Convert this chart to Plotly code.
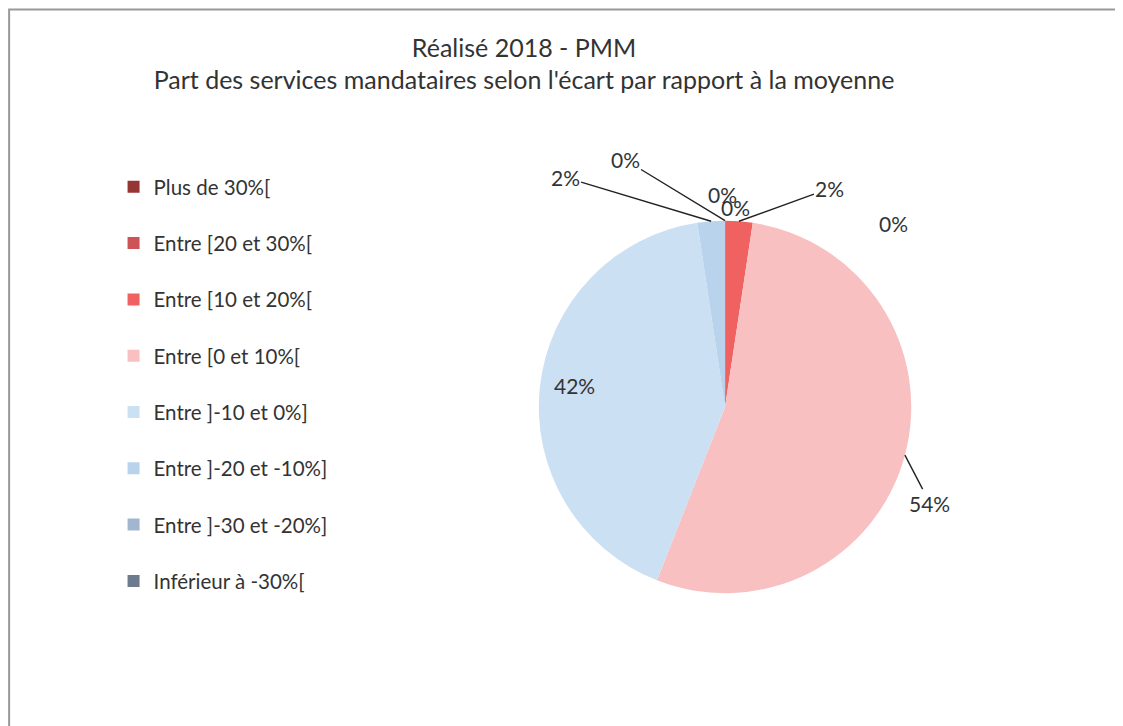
import math
import plotly.graph_objects as go

labels = ["Plus de 30%[", "Entre [20 et 30%[", "Entre [10 et 20%[", "Entre [0 et 10%[",
          "Entre ]-10 et 0%]", "Entre ]-20 et -10%]", "Entre ]-30 et -20%]", "Inférieur à -30%["]
counts = [0, 0, 2, 45, 35, 2, 0, 0]
colors = ["#963634", "#CD5357", "#F06262", "#F8C0C0",
          "#CCE0F3", "#BAD3EC", "#A3B6CF", "#6E7B8D"]

title_lines = ["Réalisé 2018 - PMM",
               "Part des services mandataires selon l'écart par rapport à la moyenne"]

# label placement per slice: pixel offset from slice edge midpoint, leader line or not
label_offsets = [(-3, -26, False), (10, -13, False), (91, -33, True), (25, 48, True),
                 (35, -1, False), (-146, -44, True), (-100, -61, True), (168, 3, False)]

W, H = 1123, 726
dom_x = [0.4685, 0.8085]
dom_y = [0.194, 0.707]
lbl_font = dict(size=21, family="Lato", color="#333333")

fig = go.Figure(go.Pie(
    labels=[l + "<br> " for l in labels],
    values=counts,
    marker=dict(colors=colors),
    sort=False,
    direction="clockwise",
    rotation=0,
    textinfo="none",
    domain=dict(x=dom_x, y=dom_y),
    showlegend=True,
))

# data labels, positioned from the slice angles
total = sum(counts)
cx = sum(dom_x) / 2
cy = sum(dom_y) / 2
r_px = min((dom_x[1] - dom_x[0]) * W, (dom_y[1] - dom_y[0]) * H) / 2
cum = 0
for v, (dx, dy, line) in zip(counts, label_offsets):
    theta = 2 * math.pi * (cum + v / 2) / total
    cum += v
    px = cx + r_px * math.sin(theta) / W
    py = cy + r_px * math.cos(theta) / H
    txt = f"{round(100 * v / total)}%"
    if line:
        fig.add_annotation(x=px, y=py, xref="paper", yref="paper", text=txt,
                           showarrow=True, arrowhead=0, arrowwidth=1.4, arrowcolor="#222222",
                           ax=dx, ay=dy, font=lbl_font)
    else:
        fig.add_annotation(x=px, y=py, xref="paper", yref="paper", text=txt,
                           showarrow=False, xshift=dx, yshift=-dy,
                           xanchor="center", yanchor="middle", font=lbl_font)

fig.update_layout(
    width=W, height=H,
    paper_bgcolor="white",
    font=dict(family="Lato", color="#333333"),
    title=dict(text="<br>".join(title_lines), x=0.4595, y=0.933, xanchor="center", yanchor="top",
               font=dict(size=25, family="Lato", color="#333333")),
    legend=dict(x=0.094, y=0.781, yanchor="top", valign="top",
                font=dict(size=20.5, family="Lato", color="#333333")),
    margin=dict(l=0, r=0, t=0, b=0),
    shapes=[dict(type="rect", xref="paper", yref="paper", x0=0.001, y0=-0.05, x1=1.05, y1=0.998,
                 line=dict(color="#999999", width=2))],
)

fig.write_html("out.html")
